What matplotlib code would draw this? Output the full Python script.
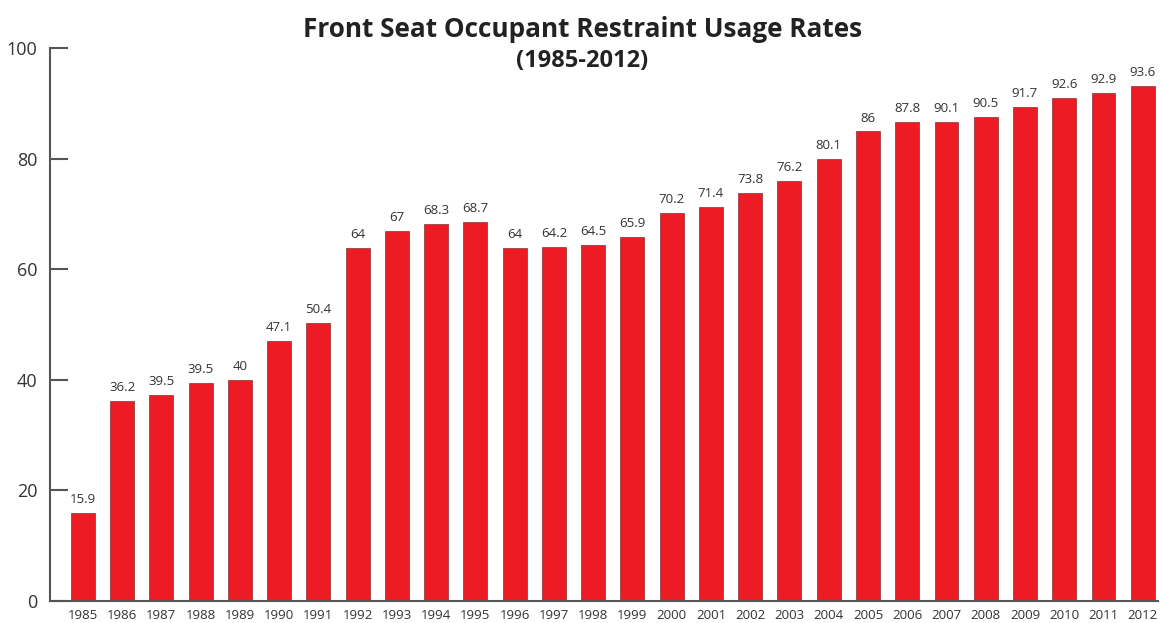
import numpy as np
import matplotlib.pyplot as plt

plt.rcParams['font.family'] = ['Open Sans', 'DejaVu Sans']

years = [str(y) for y in range(1985, 2013)]
# bar heights as drawn in the chart
bar_heights = [16.0, 36.2, 37.3, 39.5, 40.0, 47.1, 50.3, 63.9, 66.9, 68.2,
               68.6, 63.9, 64.1, 64.4, 65.8, 70.1, 71.3, 73.7, 76.0, 80.0,
               84.9, 86.7, 86.7, 87.6, 89.4, 91.0, 91.9, 93.1]
# printed value labels
rate_labels = ['15.9', '36.2', '39.5', '39.5', '40', '47.1', '50.4', '64', '67',
               '68.3', '68.7', '64', '64.2', '64.5', '65.9', '70.2', '71.4',
               '73.8', '76.2', '80.1', '86', '87.8', '90.1', '90.5', '91.7',
               '92.6', '92.9', '93.6']

text_col = '#333333'
axis_col = '#555555'

fig = plt.figure(figsize=(11.6, 6.23), dpi=100)
ax = fig.add_axes([0.043, 0.0353, 0.955, 0.8877])

x = np.arange(len(years))
bars = ax.bar(x, bar_heights, width=0.61, color='#ED1C24',
              edgecolor='#8a3030', linewidth=0.5)

for xi, h, lab in zip(x, bar_heights, rate_labels):
    ax.annotate(lab, (xi, h), xytext=(0, 5), textcoords='offset points',
                ha='center', va='bottom', fontsize=9.5, color=text_col)

ax.set_xlim(-0.84, 27.38)
ax.set_ylim(0, 100)
ax.set_yticks([0, 20, 40, 60, 80, 100])
ax.set_xticks(x)
ax.set_xticklabels(years)

for s in ['top', 'right']:
    ax.spines[s].set_visible(False)
for s in ['left', 'bottom']:
    ax.spines[s].set_color(axis_col)
    ax.spines[s].set_linewidth(1.5)

ax.tick_params(axis='y', direction='in', length=13, width=1.5, color=axis_col,
               labelsize=13, labelcolor=text_col, pad=9)
ax.tick_params(axis='x', length=0, labelsize=9.5, labelcolor=text_col, pad=6)

fig.text(0.502, 0.952, 'Front Seat Occupant Restraint Usage Rates',
         ha='center', va='center', fontsize=18.8, fontweight='bold', color='#222222')
fig.text(0.502, 0.902, '(1985-2012)', ha='center', va='center',
         fontsize=17, fontweight='bold', color='#222222')

fig.savefig('out.png', dpi=100)
